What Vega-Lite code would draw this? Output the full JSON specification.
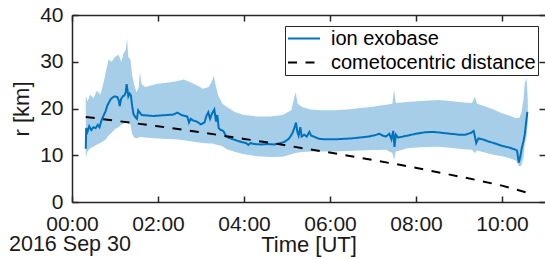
{
  "$schema": "https://vega.github.io/schema/vega-lite/v6.json",
  "width": 473,
  "height": 187,
  "autosize": {"type": "none"},
  "padding": {"left": 72, "top": 15, "right": 0, "bottom": 57},
  "background": "white",
  "config": {
    "view": {"stroke": null},
    "font": "Liberation Sans",
    "axis": {"grid": false, "domainColor": "#262626", "domainWidth": 1.5, "tickColor": "#262626", "tickWidth": 1.5, "labelColor": "#1a1a1a", "titleColor": "#1a1a1a", "labelFontSize": 21, "titleFontSize": 22, "titleFontWeight": "normal", "labelFlush": false}
  },
  "title": {"text": "2016 Sep 30", "orient": "bottom", "anchor": "start", "frame": "group", "dx": -63, "dy": -25, "fontSize": 21.5, "fontWeight": "normal", "color": "#1a1a1a"},
  "datasets": {
    "band": [
      {"t": 0.32, "lo": 9.5, "hi": 22.8}, {"t": 0.36, "lo": 10.8, "hi": 21.5}, {"t": 0.42, "lo": 11.5, "hi": 23.0},
      {"t": 0.5, "lo": 11.8, "hi": 22.2}, {"t": 0.58, "lo": 12.3, "hi": 23.8}, {"t": 0.66, "lo": 12.6, "hi": 23.0},
      {"t": 0.72, "lo": 13.0, "hi": 25.0}, {"t": 0.78, "lo": 13.3, "hi": 27.5}, {"t": 0.85, "lo": 14.2, "hi": 30.5},
      {"t": 0.92, "lo": 14.8, "hi": 30.0}, {"t": 1.0, "lo": 15.6, "hi": 31.0}, {"t": 1.08, "lo": 16.0, "hi": 31.5},
      {"t": 1.15, "lo": 16.5, "hi": 30.0}, {"t": 1.2, "lo": 16.8, "hi": 31.8}, {"t": 1.25, "lo": 17.0, "hi": 32.5},
      {"t": 1.28, "lo": 17.0, "hi": 35.0}, {"t": 1.31, "lo": 16.8, "hi": 31.0}, {"t": 1.36, "lo": 16.5, "hi": 30.5},
      {"t": 1.4, "lo": 14.5, "hi": 27.0}, {"t": 1.45, "lo": 13.8, "hi": 25.0}, {"t": 1.5, "lo": 13.6, "hi": 23.5},
      {"t": 1.55, "lo": 13.8, "hi": 24.5}, {"t": 1.58, "lo": 13.9, "hi": 27.8}, {"t": 1.62, "lo": 13.9, "hi": 25.2},
      {"t": 1.7, "lo": 13.8, "hi": 24.6}, {"t": 1.85, "lo": 13.7, "hi": 25.0}, {"t": 2.0, "lo": 13.6, "hi": 25.3},
      {"t": 2.2, "lo": 13.5, "hi": 25.5}, {"t": 2.4, "lo": 13.4, "hi": 25.8}, {"t": 2.6, "lo": 13.2, "hi": 26.2},
      {"t": 2.75, "lo": 13.0, "hi": 25.6}, {"t": 2.9, "lo": 12.8, "hi": 25.0}, {"t": 3.05, "lo": 12.6, "hi": 24.2},
      {"t": 3.18, "lo": 12.5, "hi": 24.6}, {"t": 3.26, "lo": 12.5, "hi": 26.0}, {"t": 3.3, "lo": 12.4, "hi": 27.0},
      {"t": 3.34, "lo": 12.3, "hi": 25.0}, {"t": 3.4, "lo": 12.2, "hi": 22.8}, {"t": 3.5, "lo": 11.9, "hi": 21.0},
      {"t": 3.6, "lo": 11.3, "hi": 20.3}, {"t": 3.8, "lo": 10.7, "hi": 19.2}, {"t": 4.0, "lo": 10.2, "hi": 18.6},
      {"t": 4.3, "lo": 9.8, "hi": 18.3}, {"t": 4.6, "lo": 9.6, "hi": 18.3}, {"t": 4.9, "lo": 9.7, "hi": 18.6},
      {"t": 5.1, "lo": 10.2, "hi": 19.6}, {"t": 5.16, "lo": 10.4, "hi": 22.0}, {"t": 5.2, "lo": 10.5, "hi": 23.5},
      {"t": 5.25, "lo": 10.6, "hi": 21.0}, {"t": 5.35, "lo": 10.7, "hi": 20.3}, {"t": 5.55, "lo": 10.8, "hi": 19.8},
      {"t": 5.8, "lo": 10.8, "hi": 19.6}, {"t": 6.1, "lo": 10.8, "hi": 19.6}, {"t": 6.4, "lo": 10.9, "hi": 19.8},
      {"t": 6.7, "lo": 11.0, "hi": 20.1}, {"t": 7.0, "lo": 11.1, "hi": 20.4}, {"t": 7.3, "lo": 11.2, "hi": 20.8},
      {"t": 7.45, "lo": 10.5, "hi": 21.0}, {"t": 7.49, "lo": 9.0, "hi": 24.0}, {"t": 7.53, "lo": 10.8, "hi": 21.2},
      {"t": 7.8, "lo": 11.5, "hi": 21.4}, {"t": 8.1, "lo": 11.7, "hi": 21.6}, {"t": 8.5, "lo": 11.8, "hi": 21.8},
      {"t": 8.8, "lo": 11.6, "hi": 21.6}, {"t": 9.1, "lo": 11.3, "hi": 21.3}, {"t": 9.3, "lo": 11.2, "hi": 21.2},
      {"t": 9.37, "lo": 10.5, "hi": 22.5}, {"t": 9.42, "lo": 11.0, "hi": 21.0}, {"t": 9.6, "lo": 10.6, "hi": 20.5},
      {"t": 9.8, "lo": 10.1, "hi": 19.8}, {"t": 10.0, "lo": 9.8, "hi": 19.0}, {"t": 10.2, "lo": 9.3, "hi": 18.4},
      {"t": 10.33, "lo": 8.8, "hi": 17.9}, {"t": 10.4, "lo": 7.6, "hi": 18.0}, {"t": 10.45, "lo": 7.8, "hi": 19.0},
      {"t": 10.5, "lo": 9.5, "hi": 22.0}, {"t": 10.53, "lo": 12.5, "hi": 25.4}, {"t": 10.57, "lo": 14.0, "hi": 26.5},
      {"t": 10.6, "lo": 17.0, "hi": 22.0}
    ],
    "exo": [
      {"t": 0.32, "r": 11.4}, {"t": 0.33, "r": 15.8}, {"t": 0.36, "r": 15.0}, {"t": 0.4, "r": 16.2}, {"t": 0.45, "r": 15.4},
      {"t": 0.5, "r": 16.0}, {"t": 0.55, "r": 15.8}, {"t": 0.6, "r": 16.5}, {"t": 0.64, "r": 16.0}, {"t": 0.67, "r": 17.0},
      {"t": 0.7, "r": 17.8}, {"t": 0.74, "r": 18.6}, {"t": 0.78, "r": 19.4}, {"t": 0.82, "r": 20.6}, {"t": 0.86, "r": 21.3},
      {"t": 0.9, "r": 22.0}, {"t": 0.95, "r": 22.4}, {"t": 1.0, "r": 22.6}, {"t": 1.06, "r": 22.4}, {"t": 1.09, "r": 21.6},
      {"t": 1.11, "r": 20.5}, {"t": 1.14, "r": 22.0}, {"t": 1.18, "r": 22.6}, {"t": 1.22, "r": 22.8}, {"t": 1.25, "r": 23.5},
      {"t": 1.27, "r": 25.2}, {"t": 1.29, "r": 24.0}, {"t": 1.31, "r": 22.6}, {"t": 1.34, "r": 23.2}, {"t": 1.37, "r": 22.8},
      {"t": 1.4, "r": 20.5}, {"t": 1.43, "r": 18.8}, {"t": 1.47, "r": 18.2}, {"t": 1.51, "r": 17.8}, {"t": 1.54, "r": 19.6},
      {"t": 1.57, "r": 19.2}, {"t": 1.62, "r": 18.6}, {"t": 1.75, "r": 18.5}, {"t": 1.9, "r": 18.4}, {"t": 2.05, "r": 18.5},
      {"t": 2.2, "r": 18.6}, {"t": 2.35, "r": 18.7}, {"t": 2.45, "r": 19.1}, {"t": 2.55, "r": 18.6}, {"t": 2.68, "r": 18.3},
      {"t": 2.72, "r": 17.0}, {"t": 2.76, "r": 17.8}, {"t": 2.8, "r": 17.5}, {"t": 2.9, "r": 17.2}, {"t": 3.0, "r": 16.6},
      {"t": 3.08, "r": 17.0}, {"t": 3.13, "r": 18.5}, {"t": 3.17, "r": 19.2}, {"t": 3.21, "r": 17.8}, {"t": 3.26, "r": 19.0},
      {"t": 3.31, "r": 19.8}, {"t": 3.35, "r": 17.2}, {"t": 3.38, "r": 18.6}, {"t": 3.41, "r": 15.8}, {"t": 3.46, "r": 15.4},
      {"t": 3.52, "r": 15.2}, {"t": 3.58, "r": 14.1}, {"t": 3.65, "r": 13.7}, {"t": 3.75, "r": 13.4}, {"t": 3.85, "r": 13.1},
      {"t": 3.95, "r": 12.8}, {"t": 4.05, "r": 12.6}, {"t": 4.1, "r": 12.2}, {"t": 4.15, "r": 12.6}, {"t": 4.25, "r": 12.4},
      {"t": 4.4, "r": 12.3}, {"t": 4.55, "r": 12.4}, {"t": 4.7, "r": 12.3}, {"t": 4.85, "r": 12.6}, {"t": 4.95, "r": 12.9},
      {"t": 5.05, "r": 13.6}, {"t": 5.12, "r": 14.6}, {"t": 5.17, "r": 15.8}, {"t": 5.21, "r": 17.0}, {"t": 5.24, "r": 15.0},
      {"t": 5.27, "r": 14.2}, {"t": 5.31, "r": 16.0}, {"t": 5.34, "r": 14.0}, {"t": 5.4, "r": 14.4}, {"t": 5.46, "r": 14.0},
      {"t": 5.52, "r": 15.0}, {"t": 5.56, "r": 14.2}, {"t": 5.62, "r": 14.0}, {"t": 5.75, "r": 13.5}, {"t": 5.9, "r": 13.4},
      {"t": 6.1, "r": 13.4}, {"t": 6.3, "r": 13.5}, {"t": 6.5, "r": 13.6}, {"t": 6.7, "r": 13.8}, {"t": 6.9, "r": 14.0},
      {"t": 7.05, "r": 14.3}, {"t": 7.15, "r": 14.6}, {"t": 7.22, "r": 14.2}, {"t": 7.3, "r": 14.0}, {"t": 7.38, "r": 14.6},
      {"t": 7.43, "r": 13.4}, {"t": 7.47, "r": 15.2}, {"t": 7.5, "r": 11.8}, {"t": 7.53, "r": 14.4}, {"t": 7.58, "r": 13.8},
      {"t": 7.7, "r": 14.0}, {"t": 7.85, "r": 14.3}, {"t": 8.0, "r": 14.6}, {"t": 8.2, "r": 14.9}, {"t": 8.4, "r": 15.0},
      {"t": 8.6, "r": 14.8}, {"t": 8.8, "r": 14.6}, {"t": 9.0, "r": 14.4}, {"t": 9.15, "r": 14.4}, {"t": 9.28, "r": 14.8},
      {"t": 9.34, "r": 15.2}, {"t": 9.37, "r": 14.0}, {"t": 9.4, "r": 12.6}, {"t": 9.45, "r": 13.6}, {"t": 9.55, "r": 13.4},
      {"t": 9.7, "r": 12.9}, {"t": 9.85, "r": 12.5}, {"t": 10.0, "r": 12.0}, {"t": 10.15, "r": 11.7}, {"t": 10.28, "r": 11.3},
      {"t": 10.35, "r": 11.0}, {"t": 10.39, "r": 8.4}, {"t": 10.42, "r": 9.5}, {"t": 10.46, "r": 11.5}, {"t": 10.5, "r": 13.0},
      {"t": 10.53, "r": 14.5}, {"t": 10.56, "r": 17.0}, {"t": 10.59, "r": 19.3}
    ],
    "dist": [
      {"t": 0.32, "d": 18.2}, {"t": 1.0, "d": 17.4}, {"t": 2.0, "d": 16.2}, {"t": 3.0, "d": 14.9}, {"t": 4.0, "d": 13.5},
      {"t": 4.8, "d": 12.4}, {"t": 5.5, "d": 11.3}, {"t": 6.34, "d": 10.05}, {"t": 7.1, "d": 8.8}, {"t": 7.87, "d": 7.55},
      {"t": 8.6, "d": 6.2}, {"t": 9.41, "d": 4.7}, {"t": 10.0, "d": 3.5}, {"t": 10.55, "d": 2.1}
    ]
  },
  "layer": [
    {
      "data": {"name": "band"},
      "mark": {"type": "area", "color": "#0072BD", "opacity": 0.35},
      "encoding": {
        "x": {"field": "t", "type": "quantitative", "scale": {"domain": [0, 11], "nice": false},
          "axis": {"orient": "bottom", "values": [0, 2, 4, 6, 8, 10], "labelExpr": "(datum.value < 10 ? '0' : '') + datum.value + ':00'", "tickSize": -6, "labelPadding": 17, "title": "Time [UT]", "titlePadding": 0}},
        "y": {"field": "lo", "type": "quantitative", "scale": {"domain": [0, 40], "nice": false},
          "axis": {"orient": "left", "values": [0, 10, 20, 30, 40], "tickSize": -6, "labelPadding": 15, "title": "r [km]", "titlePadding": 6}},
        "y2": {"field": "hi"}
      }
    },
    {
      "data": {"name": "exo"},
      "mark": {"type": "line", "strokeWidth": 2},
      "encoding": {
        "x": {"field": "t", "type": "quantitative", "axis": {"orient": "top", "values": [0, 2, 4, 6, 8, 10], "labels": false, "tickSize": -6, "title": null}},
        "y": {"field": "r", "type": "quantitative", "axis": {"orient": "right", "values": [0, 10, 20, 30, 40], "labels": false, "tickSize": -6, "title": null, "domain": false}},
        "color": {"datum": "ion exobase", "scale": {"domain": ["ion exobase", "cometocentric distance"], "range": ["#0072BD", "#000000"]},
          "legend": {"orient": "none", "legendX": 213, "legendY": 11, "title": null, "strokeColor": "#262626", "fillColor": "white", "padding": 2, "labelFontSize": 20, "labelColor": "#000000", "labelLimit": 0, "symbolSize": 1024, "symbolStrokeWidth": 2, "labelOffset": 10, "rowPadding": 3, "clipHeight": 21}},
        "strokeDash": {"datum": "ion exobase", "scale": {"domain": ["ion exobase", "cometocentric distance"], "range": [[1, 0], [9, 8.5]]},
          "legend": {"orient": "none", "legendX": 213, "legendY": 11, "title": null, "strokeColor": "#262626", "fillColor": "white", "padding": 2, "labelFontSize": 20, "labelColor": "#000000", "labelLimit": 0, "symbolSize": 1024, "symbolStrokeWidth": 2, "labelOffset": 10, "rowPadding": 3, "clipHeight": 21}}
      }
    },
    {
      "data": {"name": "dist"},
      "mark": {"type": "line", "strokeWidth": 2},
      "encoding": {
        "x": {"field": "t", "type": "quantitative", "axis": null},
        "y": {"field": "d", "type": "quantitative", "axis": null},
        "color": {"datum": "cometocentric distance"},
        "strokeDash": {"datum": "cometocentric distance"}
      }
    }
  ],
  "resolve": {"axis": {"x": "independent", "y": "independent"}}
}
